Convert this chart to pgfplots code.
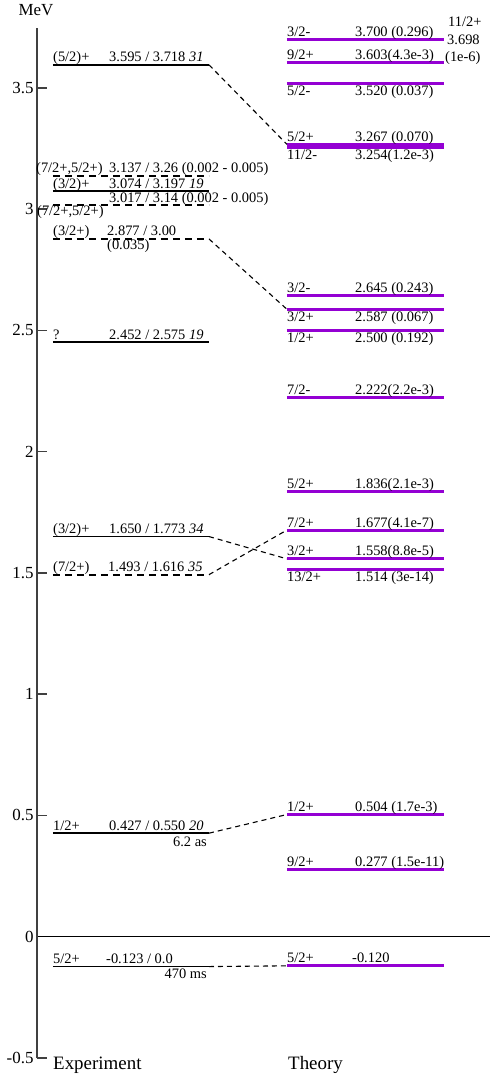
\documentclass[border=0pt]{standalone}
\usepackage{pgfplots}
\pgfplotsset{compat=1.18}
\usepackage{fontspec}
\setmainfont{Liberation Serif}
\definecolor{lvlpurple}{RGB}{148,0,211}

% label helpers: above / below a level line
\newcommand{\up}[3]{\node[lab,anchor=base west,yshift=3bp] at (axis cs:#1,#2) {#3};}
\newcommand{\dn}[3]{\node[lab,anchor=base west,yshift=-12bp] at (axis cs:#1,#2) {#3};}

\begin{document}
\begin{tikzpicture}[
  lab/.style={font=\fontsize{14.5}{15}\selectfont,inner sep=0pt},
  expl/.style={black,line width=1.8bp},
  expd/.style={black,line width=1.8bp,dash pattern=on 7bp off 5bp},
  theo/.style={lvlpurple,line width=3bp},
  conn/.style={black,line width=1.1bp,dash pattern=on 5bp off 4bp}]
\begin{axis}[
  scale only axis,width=453bp,height=1030bp,
  xmin=37,xmax=490,ymin=-0.5,ymax=3.747,
  axis y line*=left,axis x line*=middle,
  y axis line style={line width=2bp,black!75},
  x axis line style={line width=1.4bp,black},
  xtick=\empty,
  ytick={-0.5,0,0.5,1,1.5,2,2.5,3,3.5},
  yticklabels={-0.5,0,0.5,1,1.5,2,2.5,3,3.5},
  tick align=inside,major tick length=10bp,
  ytick style={line width=1.5bp,black!75},
  yticklabel style={font=\fontsize{17}{17}\selectfont},
  clip=false]

% experiment levels
\addplot[expl] coordinates {(53,3.595) (209,3.595)};
\addplot[expd] coordinates {(53,3.137) (209,3.137)};
\addplot[expl] coordinates {(53,3.074) (209,3.074)};
\addplot[expd] coordinates {(53,3.017) (209,3.017)};
\addplot[expd] coordinates {(53,2.877) (209,2.877)};
\addplot[expl] coordinates {(53,2.452) (209,2.452)};
\addplot[expl] coordinates {(53,1.650) (209,1.650)};
\addplot[expd] coordinates {(53,1.493) (209,1.493)};
\addplot[expl] coordinates {(53,0.427) (209,0.427)};
\addplot[expl] coordinates {(53,-0.123) (209,-0.123)};

% theory levels
\addplot[theo] coordinates {(287,3.700) (444,3.700)};
\addplot[theo] coordinates {(287,3.698) (444,3.698)};
\addplot[theo] coordinates {(287,3.603) (444,3.603)};
\addplot[theo] coordinates {(287,3.520) (444,3.520)};
\addplot[theo] coordinates {(287,3.267) (444,3.267)};
\addplot[theo] coordinates {(287,3.254) (444,3.254)};
\addplot[theo] coordinates {(287,2.645) (444,2.645)};
\addplot[theo] coordinates {(287,2.587) (444,2.587)};
\addplot[theo] coordinates {(287,2.500) (444,2.500)};
\addplot[theo] coordinates {(287,2.222) (444,2.222)};
\addplot[theo] coordinates {(287,1.836) (444,1.836)};
\addplot[theo] coordinates {(287,1.677) (444,1.677)};
\addplot[theo] coordinates {(287,1.558) (444,1.558)};
\addplot[theo] coordinates {(287,1.514) (444,1.514)};
\addplot[theo] coordinates {(287,0.504) (444,0.504)};
\addplot[theo] coordinates {(287,0.277) (444,0.277)};
\addplot[theo] coordinates {(287,-0.120) (444,-0.120)};

% correspondences
\addplot[conn] coordinates {(209,3.595) (287,3.267)};
\addplot[conn] coordinates {(209,2.877) (287,2.587)};
\addplot[conn] coordinates {(209,1.650) (287,1.558)};
\addplot[conn] coordinates {(209,1.493) (287,1.677)};
\addplot[conn] coordinates {(209,0.427) (287,0.504)};
\addplot[conn] coordinates {(209,-0.123) (287,-0.120)};

% experiment labels
\up{53}{3.595}{(5/2)+}   \up{109}{3.595}{3.595 / 3.718 \textit{31}}
\up{36}{3.137}{(7/2+,5/2+)} \up{109}{3.137}{3.137 / 3.26 (0.002 - 0.005)}
\up{53}{3.074}{(3/2)+}   \up{109}{3.074}{3.074 / 3.197 \textit{19}}
\up{109}{3.017}{3.017 / 3.14 (0.002 - 0.005)}
\node[lab,anchor=base west,yshift=-10bp] at (axis cs:37,3.017) {(7/2+,5/2+)};
\up{53}{2.877}{(3/2+)}   \up{107}{2.877}{2.877 / 3.00}
\node[lab,anchor=base west,yshift=-11bp] at (axis cs:107,2.877) {(0.035)};
\up{53}{2.452}{?}        \up{109}{2.452}{2.452 / 2.575 \textit{19}}
\up{53}{1.650}{(3/2)+}   \up{109}{1.650}{1.650 / 1.773 \textit{34}}
\up{53}{1.493}{(7/2+)}   \up{108}{1.493}{1.493 / 1.616 \textit{35}}
\up{53}{0.427}{1/2+}     \up{109}{0.427}{0.427 / 0.550 \textit{20}}
\node[lab,anchor=base east,yshift=-13bp] at (axis cs:207,0.427) {6.2 as};
\up{53}{-0.123}{5/2+}    \up{106}{-0.123}{-0.123 / 0.0}
\node[lab,anchor=base east,yshift=-12bp] at (axis cs:207,-0.123) {470 ms};

% theory labels
\up{287}{3.700}{3/2-}    \up{355}{3.700}{3.700 (0.296)}
\up{287}{3.603}{9/2+}    \up{355}{3.603}{3.603(4.3e-3)}
\dn{287}{3.520}{5/2-}    \dn{355}{3.520}{3.520 (0.037)}
\up{287}{3.267}{5/2+}    \up{355}{3.267}{3.267 (0.070)}
\dn{287}{3.254}{11/2-}   \dn{355}{3.254}{3.254(1.2e-3)}
\up{287}{2.645}{3/2-}    \up{355}{2.645}{2.645 (0.243)}
\dn{287}{2.587}{3/2+}    \dn{355}{2.587}{2.587 (0.067)}
\dn{287}{2.500}{1/2+}    \dn{355}{2.500}{2.500 (0.192)}
\up{287}{2.222}{7/2-}    \up{355}{2.222}{2.222(2.2e-3)}
\up{287}{1.836}{5/2+}    \up{355}{1.836}{1.836(2.1e-3)}
\up{287}{1.677}{7/2+}    \up{355}{1.677}{1.677(4.1e-7)}
\up{287}{1.558}{3/2+}    \up{355}{1.558}{1.558(8.8e-5)}
\dn{287}{1.514}{13/2+}   \dn{355}{1.514}{1.514 (3e-14)}
\up{287}{0.504}{1/2+}    \up{355}{0.504}{0.504 (1.7e-3)}
\up{287}{0.277}{9/2+}    \up{355}{0.277}{0.277 (1.5e-11)}
\up{287}{-0.120}{5/2+}   \up{352}{-0.120}{-0.120}
\node[lab,anchor=base west] at (axis cs:448,3.755) {11/2+};
\node[lab,anchor=base west] at (axis cs:447,3.677) {3.698};
\node[lab,anchor=base west] at (axis cs:445,3.607) {(1e-6)};

% axis titles
\node[font=\fontsize{17}{17}\selectfont,anchor=base] at (axis cs:36,3.747) [yshift=12bp] {MeV};
\node[font=\fontsize{19}{19}\selectfont,anchor=base west,inner sep=0pt] at (axis cs:53,-0.5) [yshift=-12bp] {Experiment};
\node[font=\fontsize{19}{19}\selectfont,anchor=base west,inner sep=0pt] at (axis cs:288,-0.5) [yshift=-12bp] {Theory};
\end{axis}
\pgfresetboundingbox
\path[use as bounding box] ([shift={(-37bp,-20bp)}]current axis.south west) rectangle ([shift={(3bp,28bp)}]current axis.north east);
\end{tikzpicture}
\end{document}
